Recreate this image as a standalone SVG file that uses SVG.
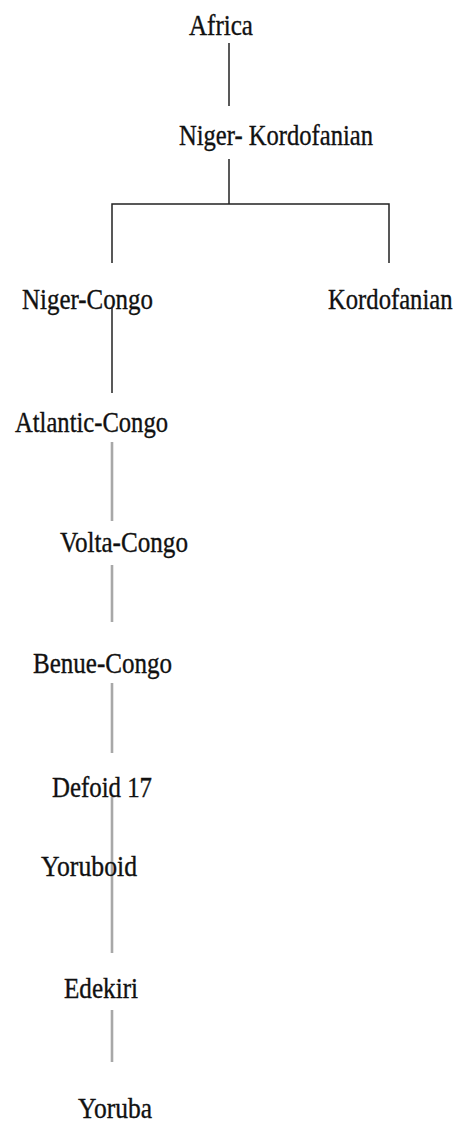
<svg xmlns="http://www.w3.org/2000/svg" width="461" height="1124" viewBox="0 0 461 1124">
  <style>
    .lbl { font-family: "Liberation Serif", "Times New Roman", serif; font-size: 29px; fill: #111; stroke: #111; stroke-width: 0.35; }
    .dark { stroke: #222; stroke-width: 1.5; fill: none; }
    .grey { stroke: #a8a8a8; stroke-width: 2.6; fill: none; }
  </style>
  <rect width="461" height="1124" fill="#fff"/>

  <!-- tree connectors -->
  <g id="connectors">
    <line class="dark" x1="229" y1="43" x2="229" y2="106" stroke="#555"/>
    <line class="dark" x1="229" y1="159" x2="229" y2="204"/>
    <polyline class="dark" points="112,263 112,204 389,204 389,263"/>
    <line class="dark" x1="112" y1="308" x2="112" y2="393"/>
    <line class="grey" x1="112" y1="442" x2="112" y2="521"/>
    <line class="grey" x1="112" y1="565" x2="112" y2="622"/>
    <line class="grey" x1="112" y1="683" x2="112" y2="753"/>
    <line class="grey" x1="112" y1="797" x2="112" y2="953"/>
    <line class="grey" x1="112" y1="1010" x2="112" y2="1062"/>
  </g>

  <!-- language nodes -->
  <g id="africa"><text class="lbl" x="189" y="35" textLength="64" lengthAdjust="spacingAndGlyphs">Africa</text></g>
  <g id="niger-kordofanian"><text class="lbl" x="179" y="145" textLength="194" lengthAdjust="spacingAndGlyphs">Niger- Kordofanian</text></g>
  <g id="niger-congo"><text class="lbl" x="22" y="309" textLength="131" lengthAdjust="spacingAndGlyphs">Niger-Congo</text></g>
  <g id="kordofanian" transform="translate(328,309) scale(0.85,1)"><text class="lbl" x="0" y="0">Kordofanian</text></g>
  <g id="atlantic-congo"><text class="lbl" x="15" y="432" textLength="153" lengthAdjust="spacingAndGlyphs">Atlantic-Congo</text></g>
  <g id="volta-congo"><text class="lbl" x="60" y="552" textLength="128" lengthAdjust="spacingAndGlyphs">Volta-Congo</text></g>
  <g id="benue-congo"><text class="lbl" x="33" y="673" textLength="139" lengthAdjust="spacingAndGlyphs">Benue-Congo</text></g>
  <g id="defoid"><text class="lbl" x="52" y="797" textLength="100" lengthAdjust="spacingAndGlyphs">Defoid 17</text></g>
  <g id="yoruboid"><text class="lbl" x="41" y="876" textLength="96" lengthAdjust="spacingAndGlyphs">Yoruboid</text></g>
  <g id="edekiri"><text class="lbl" x="64" y="998" textLength="74" lengthAdjust="spacingAndGlyphs">Edekiri</text></g>
  <g id="yoruba"><text class="lbl" x="78" y="1118" textLength="74" lengthAdjust="spacingAndGlyphs">Yoruba</text></g>
</svg>
